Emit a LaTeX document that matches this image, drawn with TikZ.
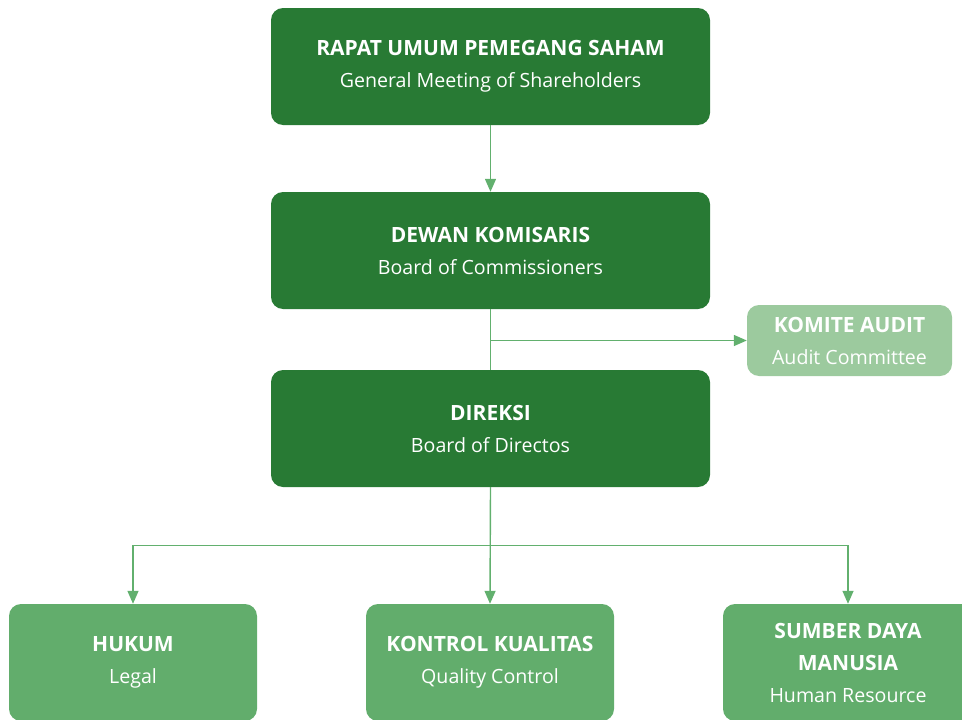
\documentclass[tikz,border=0pt]{standalone}
\usepackage{fontspec}
\setmainfont{Open Sans}
\usetikzlibrary{arrows.meta,calc,positioning}
\definecolor{orgdark}{HTML}{287A34}
\definecolor{orgmid}{HTML}{62AD6C}
\definecolor{orglight}{HTML}{9CCA9E}
\definecolor{orgline}{HTML}{62B06E}
\tikzset{
  orgbox/.style={rounded corners=12pt,text=white,align=center,inner sep=0pt,
    font=\fontsize{19.6}{32}\selectfont},
  link/.style={orgline,line width=1.4pt},
  linkarrow/.style={link,-{Triangle[length=13pt,width=11pt]}}
}
\newcommand{\orgtitle}[1]{{\fontsize{21}{32}\selectfont\bfseries #1}}
\begin{document}
\begin{tikzpicture}[x=1pt,y=-1pt]
      \useasboundingbox (0,0) rectangle (962,720);
      \clip (0,0) rectangle (962,720);
      % top of the structure
      \foreach \y/\n/\t/\s in {66.5/rups/RAPAT UMUM PEMEGANG SAHAM/General Meeting of Shareholders,
          250.5/dewan/DEWAN KOMISARIS/Board of Commissioners,428.5/direksi/DIREKSI/Board of Directos}
        \node[orgbox,fill=orgdark,minimum width=439pt,minimum height=117pt] (\n) at (490.5,\y)
          {\orgtitle{\t}\\\s};
      \node[orgbox,fill=orglight,minimum width=205pt,minimum height=71pt] (komite) at (849.5,340.5)
        {\orgtitle{KOMITE AUDIT}\\Audit Committee};
      % units below the directors
      \foreach \x/\n/\t/\s in {133/hukum/HUKUM/Legal,490/kontrol/KONTROL KUALITAS/Quality Control}
        \node[orgbox,fill=orgmid,minimum width=248pt,minimum height=117pt] (\n) at (\x,662.5)
          {\orgtitle{\t}\\\s};
      \node[orgbox,fill=orgmid,minimum width=250pt,minimum height=117pt] (sdm) at (848,662.5)
        {\orgtitle{SUMBER DAYA}\\\orgtitle{MANUSIA}\\Human Resource};
      \draw[linkarrow] (rups.south) -- (dewan.north);
      \draw[link] (dewan.south) -- (direksi.north);
      \draw[linkarrow] (dewan.south |- komite.west) -- (komite.west);
      \coordinate (split) at ($(direksi.south)!0.5!(kontrol.north)$);
      \draw[linkarrow] (direksi.south) -- (kontrol.north);
      \draw[linkarrow] (split) -| (hukum.north);
      \draw[linkarrow] (split) -| (sdm.north);
    \end{tikzpicture}
\end{document}
